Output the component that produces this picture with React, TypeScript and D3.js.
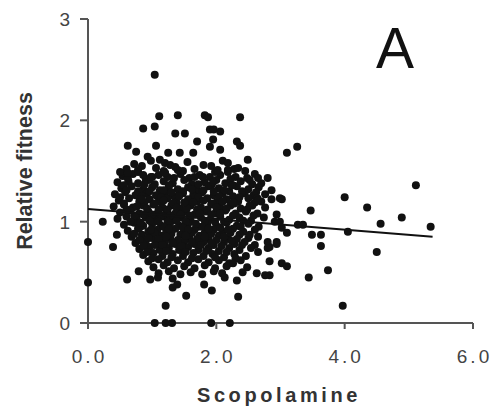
import React from "react";
import * as d3 from "d3";

const W = 493;
const H = 413;

const xTicks = [0, 2, 4, 6];
const xTickLabels = ["0.0", "2.0", "4.0", "6.0"];
const yTicks = [0, 1, 2, 3];
const yTickLabels = ["0", "1", "2", "3"];

const xLabel = "Scopolamine";
const yLabel = "Relative fitness";
const panelLetter = "A";

// regression line
const regIntercept = 1.125;
const regSlope = -0.0512;
const regXRange = [0, 5.37];

// scattered points [scopolamine, relative fitness]
const outerPoints: [number, number][] = [
  [1.04, 2.45], [1.11, 2.04], [1.40, 2.05], [1.82, 2.05], [1.87, 2.03], [2.37, 2.03],
  [0.86, 1.92], [1.04, 1.94], [1.36, 1.87], [1.51, 1.87], [1.90, 1.91], [1.96, 1.91],
  [2.06, 1.89], [1.70, 1.79], [2.32, 1.79], [2.37, 1.75], [1.95, 1.81], [1.90, 1.74],
  [2.06, 1.71], [0.62, 1.75], [0.75, 1.69], [1.06, 1.75], [1.25, 1.68], [1.43, 1.68],
  [3.10, 1.68], [3.26, 1.74], [1.64, 1.68], [0.93, 1.64], [1.12, 1.61], [1.20, 1.58],
  [2.49, 1.61], [2.18, 1.58], [2.34, 1.53], [2.02, 1.51], [2.18, 1.49], [0.50, 1.49],
  [0.62, 1.48], [0.78, 1.51], [0.86, 1.46], [0.98, 1.44], [1.20, 1.48], [1.40, 1.51],
  [1.79, 1.44], [1.95, 1.39], [2.24, 1.36], [2.52, 1.41], [2.65, 1.43], [2.80, 1.43],
  [3.02, 1.22], [4.00, 1.24], [5.11, 1.36], [4.35, 1.14], [3.47, 1.11], [2.94, 1.07],
  [4.89, 1.04], [4.56, 0.98], [5.34, 0.95], [3.27, 0.97], [3.35, 0.97], [2.91, 1.00],
  [3.02, 0.94], [3.10, 0.89], [4.05, 0.90], [3.49, 0.87], [3.63, 0.87], [3.63, 0.76],
  [2.94, 0.80], [2.83, 0.75], [4.50, 0.70], [2.83, 0.61], [3.02, 0.59], [3.10, 0.56],
  [3.74, 0.52], [3.44, 0.45], [2.83, 0.47], [3.97, 0.17],
  [0.0, 0.80], [0.0, 0.40], [0.23, 1.00], [0.45, 0.87], [0.39, 0.75],
  [0.61, 0.43], [0.79, 0.51], [0.97, 0.43], [1.09, 0.45], [1.32, 0.44], [1.39, 0.38],
  [1.32, 0.35], [1.21, 0.17], [1.53, 0.27], [1.81, 0.38], [1.93, 0.32], [2.34, 0.26],
  [1.04, 0.0], [1.21, 0.0], [1.31, 0.0], [1.92, 0.0], [2.21, 0.0],
  [2.26, 0.59], [2.48, 0.55], [2.63, 0.49], [2.76, 0.47], [2.09, 0.49], [2.13, 0.45],
  [2.32, 0.42], [2.41, 0.50], [2.99, 1.23], [2.65, 1.21], [2.52, 1.16], [2.26, 1.19],
  [2.99, 1.00], [2.52, 0.87], [2.65, 0.85], [2.80, 0.80], [2.94, 0.78], [2.65, 0.70],
  [2.80, 0.74],
];

// dense core of the cloud [scopolamine, relative fitness]
const corePoints: [number, number][] = [
  [0.72, 1.57], [0.98, 1.60], [1.28, 1.56], [1.55, 1.59], [1.80, 1.56], [2.10, 1.60],
  [0.60, 1.52], [0.84, 1.55], [1.06, 1.53], [1.18, 1.50], [1.36, 1.54], [1.66, 1.52], [1.92, 1.55], [2.28, 1.52], [2.45, 1.50],
  [0.54, 1.45], [0.70, 1.47], [0.90, 1.42], [1.10, 1.46], [1.24, 1.44], [1.44, 1.47], [1.58, 1.43], [1.74, 1.46], [1.90, 1.44], [2.06, 1.46], [2.30, 1.44], [2.60, 1.47],
  [0.46, 1.39], [0.63, 1.40], [0.78, 1.38], [0.95, 1.41], [1.04, 1.37], [1.18, 1.40], [1.32, 1.38], [1.50, 1.41], [1.62, 1.37], [1.82, 1.39], [2.00, 1.41], [2.14, 1.38], [2.38, 1.40], [2.70, 1.38],
  [0.52, 1.33], [0.68, 1.35], [0.86, 1.32], [1.00, 1.34], [1.12, 1.31], [1.26, 1.35], [1.40, 1.32], [1.56, 1.34], [1.70, 1.31], [1.88, 1.35], [2.04, 1.33], [2.20, 1.30], [2.32, 1.35], [2.50, 1.32], [2.66, 1.34], [2.86, 1.31],
  [0.42, 1.27], [0.58, 1.29], [0.74, 1.26], [0.92, 1.28], [1.06, 1.26], [1.20, 1.29], [1.34, 1.25], [1.48, 1.28], [1.64, 1.26], [1.78, 1.29], [1.96, 1.26], [2.10, 1.28], [2.26, 1.25], [2.44, 1.28], [2.58, 1.26], [2.76, 1.27],
  [0.48, 1.21], [0.64, 1.23], [0.80, 1.20], [0.96, 1.22], [1.10, 1.20], [1.24, 1.23], [1.38, 1.19], [1.56, 1.22], [1.70, 1.20], [1.86, 1.23], [2.00, 1.19], [2.16, 1.22], [2.34, 1.20], [2.50, 1.23], [2.70, 1.20], [2.86, 1.22],
  [0.40, 1.15], [0.56, 1.17], [0.70, 1.14], [0.86, 1.16], [1.02, 1.17], [1.16, 1.14], [1.30, 1.16], [1.44, 1.13], [1.60, 1.16], [1.76, 1.14], [1.92, 1.17], [2.06, 1.14], [2.22, 1.16], [2.38, 1.13], [2.56, 1.16], [2.76, 1.14],
  [0.50, 1.09], [0.66, 1.11], [0.80, 1.08], [0.94, 1.10], [1.08, 1.08], [1.22, 1.11], [1.36, 1.08], [1.52, 1.10], [1.66, 1.07], [1.84, 1.10], [1.98, 1.08], [2.14, 1.11], [2.30, 1.08], [2.46, 1.10], [2.64, 1.08],
  [0.46, 1.03], [0.60, 1.05], [0.76, 1.02], [0.90, 1.04], [1.04, 1.02], [1.18, 1.05], [1.32, 1.02], [1.46, 1.04], [1.60, 1.01], [1.76, 1.04], [1.90, 1.02], [2.06, 1.05], [2.20, 1.02], [2.36, 1.04], [2.54, 1.01], [2.74, 1.04],
  [0.56, 0.97], [0.72, 0.99], [0.86, 0.96], [1.00, 0.98], [1.14, 0.96], [1.28, 0.99], [1.42, 0.96], [1.56, 0.98], [1.72, 0.95], [1.86, 0.98], [2.00, 0.96], [2.16, 0.99], [2.32, 0.96], [2.50, 0.98], [2.66, 0.95],
  [0.62, 0.91], [0.78, 0.93], [0.94, 0.90], [1.08, 0.92], [1.22, 0.90], [1.36, 0.93], [1.50, 0.90], [1.66, 0.92], [1.82, 0.89], [1.96, 0.92], [2.10, 0.90], [2.26, 0.93], [2.42, 0.90], [2.60, 0.92],
  [0.68, 0.85], [0.84, 0.87], [1.00, 0.84], [1.14, 0.86], [1.28, 0.84], [1.44, 0.87], [1.58, 0.84], [1.74, 0.86], [1.88, 0.83], [2.04, 0.86], [2.18, 0.84], [2.36, 0.87], [2.50, 0.84],
  [0.74, 0.79], [0.90, 0.81], [1.06, 0.78], [1.20, 0.80], [1.36, 0.78], [1.50, 0.81], [1.66, 0.78], [1.80, 0.80], [1.96, 0.77], [2.12, 0.80], [2.28, 0.78], [2.44, 0.80], [2.60, 0.77],
  [0.80, 0.73], [0.96, 0.75], [1.12, 0.72], [1.26, 0.74], [1.42, 0.72], [1.56, 0.75], [1.72, 0.72], [1.88, 0.74], [2.04, 0.71], [2.20, 0.74], [2.36, 0.72], [2.54, 0.74],
  [0.86, 0.67], [1.02, 0.69], [1.16, 0.66], [1.32, 0.68], [1.48, 0.66], [1.64, 0.69], [1.80, 0.66], [1.94, 0.68], [2.12, 0.65], [2.28, 0.68], [2.46, 0.66],
  [0.94, 0.61], [1.10, 0.63], [1.24, 0.60], [1.40, 0.62], [1.56, 0.60], [1.72, 0.63], [1.88, 0.60], [2.04, 0.62], [2.20, 0.59], [2.38, 0.62],
  [1.02, 0.55], [1.18, 0.57], [1.34, 0.54], [1.50, 0.56], [1.66, 0.54], [1.82, 0.57], [1.98, 0.54], [2.16, 0.56],
  [1.10, 0.49], [1.26, 0.51], [1.44, 0.48], [1.60, 0.50], [1.78, 0.48], [1.96, 0.51],
  [0.78, 1.49], [1.20, 1.48], [1.48, 1.50], [1.98, 1.49], [2.18, 1.51],
  [0.62, 1.43], [1.00, 1.44], [1.34, 1.43], [1.66, 1.44], [2.22, 1.42], [2.48, 1.43],
  [0.56, 1.36], [0.88, 1.37], [1.26, 1.36], [1.72, 1.37], [1.92, 1.36], [2.26, 1.36], [2.56, 1.37],
  [0.60, 1.31], [0.78, 1.30], [1.18, 1.31], [1.48, 1.30], [1.80, 1.31], [2.12, 1.31], [2.40, 1.30], [2.62, 1.29],
  [0.50, 1.24], [0.84, 1.25], [1.14, 1.24], [1.42, 1.25], [1.72, 1.24], [2.04, 1.25], [2.36, 1.24], [2.64, 1.23],
  [0.56, 1.18], [0.88, 1.19], [1.04, 1.18], [1.32, 1.18], [1.64, 1.19], [1.94, 1.18], [2.28, 1.18], [2.60, 1.19],
  [0.60, 1.12], [0.92, 1.13], [1.24, 1.12], [1.54, 1.13], [1.86, 1.12], [2.16, 1.13], [2.48, 1.12],
  [0.72, 1.06], [1.00, 1.07], [1.28, 1.06], [1.58, 1.06], [1.92, 1.07], [2.26, 1.06], [2.58, 1.06],
  [0.66, 1.00], [0.96, 1.01], [1.24, 1.00], [1.52, 1.00], [1.82, 1.01], [2.12, 1.00], [2.42, 1.01],
  [0.80, 0.94], [1.18, 0.95], [1.48, 0.94], [1.78, 0.95], [2.06, 0.94], [2.38, 0.95],
  [0.72, 0.88], [1.04, 0.89], [1.30, 0.88], [1.62, 0.89], [1.92, 0.88], [2.22, 0.89],
  [0.80, 0.82], [1.10, 0.83], [1.40, 0.82], [1.70, 0.83], [2.00, 0.82], [2.32, 0.83],
  [0.86, 0.76], [1.16, 0.77], [1.46, 0.76], [1.76, 0.77], [2.08, 0.76], [2.40, 0.77],
  [0.92, 0.70], [1.22, 0.71], [1.52, 0.70], [1.84, 0.71], [2.16, 0.70],
  [1.00, 0.64], [1.30, 0.65], [1.62, 0.64], [1.98, 0.65], [2.30, 0.64],
  [0.96, 1.30], [1.30, 1.29], [1.62, 1.32], [1.96, 1.30], [0.84, 1.22], [1.18, 1.21],
  [1.50, 1.19], [1.80, 1.21], [2.10, 1.20], [0.76, 1.15], [1.10, 1.12], [1.38, 1.14],
  [1.70, 1.12], [2.00, 1.14], [0.86, 1.07], [1.14, 1.06], [1.44, 1.07], [1.74, 1.08],
  [2.06, 1.08], [0.82, 0.99], [1.10, 1.00], [1.38, 1.01], [1.68, 0.98], [1.98, 1.00],
  [0.98, 0.92], [1.26, 0.93], [1.56, 0.92], [1.88, 0.93], [2.18, 0.92], [0.94, 0.84],
  [1.22, 0.85], [1.52, 0.86], [1.82, 0.85], [2.12, 0.85], [1.04, 0.77], [1.32, 0.79],
  [1.62, 0.80], [1.92, 0.79], [2.24, 0.81],
];

export default function App() {
  const x = d3.scaleLinear().domain([0, 6]).range([88, 473]);
  const y = d3.scaleLinear().domain([0, 3]).range([323, 19]);

  const points = [...corePoints, ...outerPoints];

  const line = d3
    .line<number>()
    .x((d) => x(d))
    .y((d) => y(regIntercept + regSlope * d));

  const axisColor = "#555";
  const textColor = "#444";
  const font = "'Liberation Sans', Arial, sans-serif";

  return (
    <svg
      width={W}
      height={H}
      style={{ position: "absolute", left: 0, top: 0, background: "#fff" }}
    >
      <line x1={x(0)} x2={x(0)} y1={y(3)} y2={y(0) + 5} stroke={axisColor} strokeWidth={2} />
      <line x1={x(0)} x2={x(6)} y1={y(0)} y2={y(0)} stroke={axisColor} strokeWidth={2} />
      {yTicks.map((t, i) => (
        <g key={"yt" + i}>
          <line x1={x(0) - 8} x2={x(0)} y1={y(t)} y2={y(t)} stroke={axisColor} strokeWidth={2} />
          <text x={70} y={y(t) + 7} textAnchor="end" fontFamily={font} fontSize={19} fill={textColor}>
            {yTickLabels[i]}
          </text>
        </g>
      ))}
      {xTicks.map((t, i) => (
        <g key={"xt" + i}>
          <line x1={x(t)} x2={x(t)} y1={y(0)} y2={y(0) + 6} stroke={axisColor} strokeWidth={2} />
          <text
            x={x(t) + 1.5}
            y={363}
            textAnchor="middle"
            fontFamily={font}
            fontSize={19}
            letterSpacing={3}
            fill={textColor}
          >
            {xTickLabels[i]}
          </text>
        </g>
      ))}
      <text
        x={279}
        y={402}
        textAnchor="middle"
        fontFamily={font}
        fontSize={20}
        fontWeight="bold"
        letterSpacing={3.6}
        fill="#333"
      >
        {xLabel}
      </text>
      <text
        transform={`translate(32,171) rotate(-90)`}
        textAnchor="middle"
        fontFamily={font}
        fontSize={21.5}
        fontWeight="bold"
        fill="#333"
      >
        {yLabel}
      </text>
      <text x={395} y={68} textAnchor="middle" fontFamily={font} fontSize={57} fill="#111">
        {panelLetter}
      </text>

      {points.map((p, i) => (
        <circle key={i} cx={x(p[0])} cy={y(p[1])} r={4} fill="#111" />
      ))}

      <path d={line(regXRange) || ""} fill="none" stroke="#111" strokeWidth={2} />
    </svg>
  );
}
